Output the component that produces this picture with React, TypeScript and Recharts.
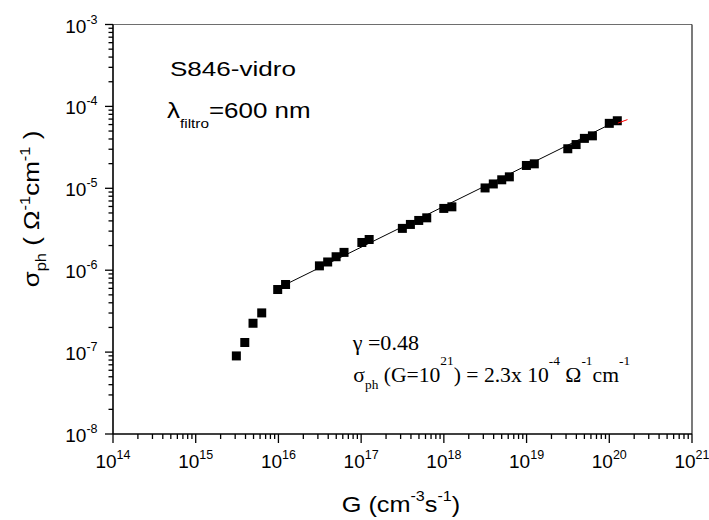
import React from 'react';
import { ScatterChart, Scatter, XAxis, YAxis, ReferenceLine } from 'recharts';

// Generation rate G (cm^-3 s^-1)
const G_VALUES = [
  3.1e15, 3.92e15, 4.93e15, 6.28e15, 9.8e15, 1.22e16,
  3.13e16, 3.94e16, 4.98e16, 6.21e16, 1.02e17, 1.25e17,
  3.15e17, 3.94e17, 4.97e17, 6.21e17, 9.98e17, 1.25e18,
  3.15e18, 3.96e18, 5.01e18, 6.19e18, 9.95e18, 1.24e19,
  3.15e19, 3.97e19, 5.0e19, 6.25e19, 1.0e20, 1.25e20,
];
// Photoconductivity sigma_ph (Ohm^-1 cm^-1)
const SIGMA_VALUES = [
  8.98e-8, 1.31e-7, 2.25e-7, 3.01e-7, 5.81e-7, 6.69e-7,
  1.13e-6, 1.26e-6, 1.46e-6, 1.65e-6, 2.18e-6, 2.37e-6,
  3.24e-6, 3.62e-6, 4.05e-6, 4.36e-6, 5.68e-6, 5.94e-6,
  1.01e-5, 1.13e-5, 1.27e-5, 1.38e-5, 1.9e-5, 1.99e-5,
  3.04e-5, 3.42e-5, 4.07e-5, 4.37e-5, 6.21e-5, 6.68e-5,
];
// Power-law fit line (black)
const FIT_G = [1.22e16, 1.25e20];
const FIT_SIGMA = [6.69e-7, 6.68e-5];
// Short red fit segment
const RED_G = [1.27e20, 1.66e20];
const RED_SIGMA = [6.25e-5, 6.9e-5];

// Axis ticks
const X_MAJOR = [1e14, 1e15, 1e16, 1e17, 1e18, 1e19, 1e20, 1e21];
const Y_MAJOR = [1e-8, 1e-7, 1e-6, 1e-5, 1e-4, 1e-3];
const MINOR_MULT = [2, 3, 4, 5, 6, 7, 8, 9];

const withMinor = (majors: number[]) => {
  const out: number[] = [];
  majors.forEach((m, i) => {
    out.push(m);
    if (i < majors.length - 1) MINOR_MULT.forEach((k) => out.push(m * k));
  });
  return out;
};
const X_TICKS = withMinor(X_MAJOR);
const Y_TICKS = withMinor(Y_MAJOR);

const data = G_VALUES.map((g, i) => ({ g, s: SIGMA_VALUES[i] }));
const fitData = FIT_G.map((g, i) => ({ g, s: FIT_SIGMA[i] }));
const redData = RED_G.map((g, i) => ({ g, s: RED_SIGMA[i] }));

const SANS = "'Liberation Sans', Arial, sans-serif";
const SERIF = "'Liberation Serif', 'Times New Roman', serif";

const isMajor = (v: number) => {
  const l = Math.log10(v);
  return Math.abs(l - Math.round(l)) < 1e-6;
};

const XTick = (props: any) => {
  const { x, y, payload } = props;
  const v = payload.value;
  const major = isMajor(v);
  const e = Math.round(Math.log10(v));
  return (
    <g>
      <line x1={x} x2={x} y1={y} y2={y + (major ? 9 : 5)} stroke="#000" strokeWidth={1.3} />
      {major && (
        <text x={x} y={y + 33.6} textAnchor="middle" fontFamily={SANS} fontSize={19} fill="#000">
          10<tspan dy={-9} fontSize={12.5}>{String(e)}</tspan>
        </text>
      )}
    </g>
  );
};

const YTick = (props: any) => {
  const { x, y, payload } = props;
  const v = payload.value;
  const major = isMajor(v);
  const e = Math.round(Math.log10(v));
  return (
    <g>
      <line x1={x - (major ? 8 : 4.5)} x2={x} y1={y} y2={y} stroke="#000" strokeWidth={1.3} />
      {major && (
        <text x={x - 15.5} y={y + 8} textAnchor="end" fontFamily={SANS} fontSize={19} fill="#000">
          10<tspan dy={-9} fontSize={12.5}>{String(e)}</tspan>
        </text>
      )}
    </g>
  );
};

const SquareMarker = (props: any) => {
  const { cx, cy } = props;
  if (cx == null || cy == null) return <g />;
  return <rect x={cx - 4.5} y={cy - 4.5} width={9} height={9} fill="#000" />;
};

const NoMarker = () => <g />;

export default function App() {
  return (
    <div style={{ position: 'absolute', left: 0, top: 0, width: 709, height: 520, background: '#fff' }}>
      <ScatterChart width={709} height={520} margin={{ top: 24.5, right: 17, bottom: 0, left: 0 }}>
        <XAxis
          type="number"
          dataKey="g"
          scale="log"
          domain={[1e14, 1e21]}
          allowDataOverflow
          ticks={X_TICKS}
          interval={0}
          tick={<XTick />}
          tickLine={false}
          tickSize={0}
          tickMargin={0}
          height={86}
          axisLine={{ stroke: '#000', strokeWidth: 1.6 }}
        />
        <YAxis
          type="number"
          dataKey="s"
          scale="log"
          domain={[1e-8, 1e-3]}
          allowDataOverflow
          ticks={Y_TICKS}
          interval={0}
          tick={<YTick />}
          tickLine={false}
          tickSize={0}
          tickMargin={0}
          width={113}
          axisLine={{ stroke: '#000', strokeWidth: 1.6 }}
        />
        <ReferenceLine y={1e-3} stroke="#6e6e6e" strokeWidth={1.2} />
        <ReferenceLine x={1e21} stroke="#222" strokeWidth={1.2} />
        <Scatter data={fitData} line={{ stroke: '#000', strokeWidth: 1 }} shape={<NoMarker />} isAnimationActive={false} />
        <Scatter data={data} shape={<SquareMarker />} isAnimationActive={false} />
        <Scatter data={redData} line={{ stroke: '#ff0000', strokeWidth: 1 }} shape={<NoMarker />} isAnimationActive={false} />
      </ScatterChart>
      <svg width={709} height={520} style={{ position: 'absolute', left: 0, top: 0, pointerEvents: 'none' }}>
        <text transform="translate(170,76) scale(1.24,1)" fontFamily={SANS} fontSize={21} fill="#000">
          S846-vidro
        </text>
        <text transform="translate(167,118.3) scale(1.18,1)" fontFamily={SANS} fontSize={22} fill="#000">
          λ<tspan dy={10} fontSize={13}>filtro</tspan>
          <tspan dy={-10}>=600 nm</tspan>
        </text>
        <text transform="translate(352.7,350) scale(1.05,1)" fontFamily={SERIF} fontSize={21} fill="#000">
          γ =0.48
        </text>
        <text transform="translate(353.3,381.7) scale(1.03,1)" fontFamily={SERIF} fontSize={21} fill="#000">
          σ<tspan dy={7} fontSize={13}>ph</tspan>
          <tspan dy={-7}> (G=10</tspan>
          <tspan dy={-17} fontSize={13}>21</tspan>
          <tspan dy={17}>) = 2.3x 10</tspan>
          <tspan dy={-17} fontSize={13}>-4</tspan>
          <tspan dy={17}> Ω</tspan>
          <tspan dy={-17} fontSize={13}>-1</tspan>
          <tspan dy={17}>cm</tspan>
          <tspan dy={-17} fontSize={13}>-1</tspan>
        </text>
        <text transform="translate(341.7,511.7) scale(1.15,1)" fontFamily={SANS} fontSize={22} fill="#000">
          G (cm<tspan dy={-10.5} fontSize={14}>-3</tspan>
          <tspan dy={10.5}>s</tspan>
          <tspan dy={-10.5} fontSize={14}>-1</tspan>
          <tspan dy={10.5}>)</tspan>
        </text>
        <text
          transform="translate(38.5,209) rotate(-90) scale(1.18,1)"
          textAnchor="middle"
          fontFamily={SANS}
          fontSize={22}
          fill="#000"
        >
          σ<tspan dy={7.5} fontSize={14}>ph</tspan>
          <tspan dy={-7.5}> ( Ω</tspan>
          <tspan dy={-9} fontSize={14}>-1</tspan>
          <tspan dy={9}>cm</tspan>
          <tspan dy={-9} fontSize={14}>-1</tspan>
          <tspan dy={9}> )</tspan>
        </text>
      </svg>
    </div>
  );
}
